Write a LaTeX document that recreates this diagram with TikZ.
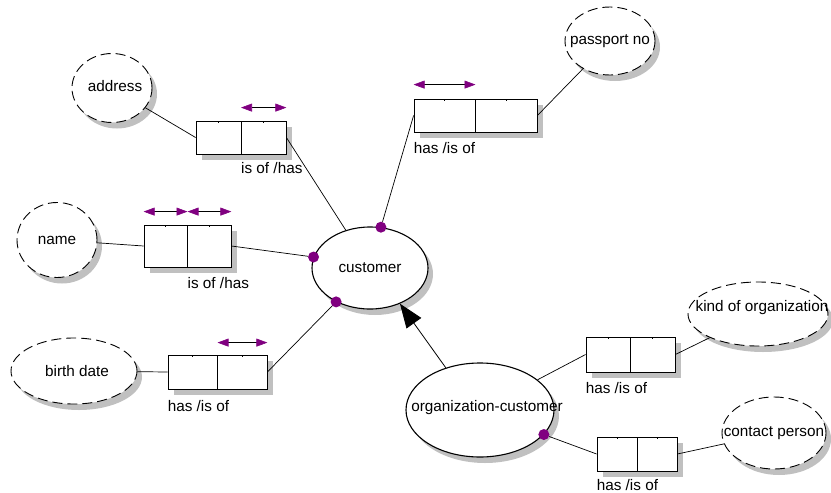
\documentclass[tikz,border=0pt]{standalone}
\usepackage{fontspec}
\setmainfont{Liberation Sans}
\usetikzlibrary{shapes.geometric,shadows,arrows.meta,calc}
\definecolor{assoc}{RGB}{128,0,128}
\definecolor{shadowgray}{RGB}{192,192,192}

\begin{document}
\begin{tikzpicture}[x=1pt,y=-1pt,
  font=\fontsize{15.3}{18}\selectfont,
  castshadow/.style={drop shadow={shadow xshift=5pt,shadow yshift=-6pt,fill=shadowgray,opacity=1}},
  attr/.style={ellipse,draw,dash pattern=on 10pt off 5pt,line width=0.9pt,fill=white,inner sep=0pt,castshadow},
  entity/.style={ellipse,draw,line width=1.1pt,fill=white,inner sep=0pt,castshadow},
  relbox/.style={rectangle,draw,line width=0.8pt,fill=white,inner sep=0pt,
    drop shadow={shadow xshift=6pt,shadow yshift=-6pt,fill=shadowgray,opacity=1},
    path picture={
      \draw[line width=0.8pt] (path picture bounding box.north) -- (path picture bounding box.south);
      \draw[line width=0.6pt] ($(path picture bounding box.north west)!0.25!(path picture bounding box.north east)$) -- ++(0,2);
      \draw[line width=0.6pt] ($(path picture bounding box.north west)!0.75!(path picture bounding box.north east)$) -- ++(0,2);
    }},
  rellabel/.style={anchor=west,inner sep=0pt},
  link/.style={line width=0.7pt},
  joint/.style={circle,fill=assoc,inner sep=0pt,minimum size=11pt},
  dblarr/.style={line width=0.6pt,arrows={Triangle[length=11pt,width=8pt,color=assoc]-Triangle[length=11pt,width=8pt,color=assoc]}},
  isa/.style={line width=0.8pt,arrows={-Triangle[length=24pt,width=18pt]}}
]
\useasboundingbox (0,0) rectangle (831,493);

% entities
\node[entity,minimum width=116pt,minimum height=82pt,label={center:customer}] (cust) at (370,268) {};
\node[entity,minimum width=148pt,minimum height=94pt,label={[xshift=7pt,yshift=2pt]center:organization-customer}] (org) at (480,410) {};

% attributes
\node[attr,minimum width=80pt,minimum height=69pt,label={[xshift=3pt,yshift=2pt]center:address}] (address) at (112,88) {};
\node[attr,minimum width=80pt,minimum height=75pt,label={center:name}] (name) at (57,240) {};
\node[attr,minimum width=126pt,minimum height=66pt,label={[xshift=3pt]center:birth date}] (birth) at (74,371) {};
\node[attr,minimum width=90pt,minimum height=68pt,label={center:passport no}] (passport) at (610,41) {};
\node[attr,minimum width=140pt,minimum height=64pt,label={[xshift=4pt,yshift=6pt]center:kind of organization}] (kind) at (758,314) {};
\node[attr,minimum width=104pt,minimum height=72pt,label={center:contact person}] (contact) at (774,433) {};

% relationship boxes
\node[relbox,minimum width=90pt,minimum height=33pt] (abox) at (241,137.5) {};
\node[relbox,minimum width=87pt,minimum height=42pt] (nbox) at (187.5,246) {};
\node[relbox,minimum width=99pt,minimum height=34pt] (bbox) at (217.5,372) {};
\node[relbox,minimum width=123pt,minimum height=33pt] (pbox) at (475.5,115.5) {};
\node[relbox,minimum width=89pt,minimum height=35pt] (kbox) at (630.5,354.5) {};
\node[relbox,minimum width=80pt,minimum height=34pt] (cbox) at (637,454) {};

% role labels
\node[rellabel] at ([yshift=-14pt]abox.south) {is of /has};
\node[rellabel] at ([yshift=-16pt]nbox.south) {is of /has};
\node[rellabel] at ([yshift=-17pt]bbox.south west) {has /is of};
\node[rellabel] at ([yshift=-16pt]pbox.south west) {has /is of};
\node[rellabel] at ([yshift=-16pt]kbox.south west) {has /is of};
\node[rellabel] at ([yshift=-14pt]cbox.south west) {has /is of};

% direction arrows
\draw[dblarr] ([yshift=13pt]abox.north) -- ([yshift=13pt]abox.north east);
\draw[dblarr] ([yshift=13pt]nbox.north west) -- ([yshift=13pt]nbox.north);
\draw[dblarr] ([yshift=13pt]nbox.north) -- ([yshift=13pt]nbox.north east);
\draw[dblarr] ([yshift=12pt]bbox.north) -- ([yshift=12pt]bbox.north east);
\draw[dblarr] ([yshift=14pt]pbox.north west) -- ([yshift=14pt]pbox.north);

% joints
\node[joint] (j1) at (cust.75) {};
\node[joint] (j2) at (cust.169) {};
\node[joint] (j3) at (cust.225) {};
\node[joint] (j4) at (org.-21) {};

% connectors
\draw[link] (address) -- (abox.west);
\draw[link] (abox.east) -- (cust);
\draw[link] (name) -- (nbox.west);
\draw[link] (nbox.east) -- (j2);
\draw[link] (birth) -- (bbox.west);
\draw[link] (bbox.east) -- (j3);
\draw[link] (passport) -- (pbox.east);
\draw[link] (pbox.west) -- (j1);
\draw[link] (org) -- (kbox.west);
\draw[link] (kbox.east) -- (kind);
\draw[link] (j4) -- (cbox.west);
\draw[link] (cbox.east) -- (contact);

% generalisation
\draw[isa] (org.129) -- (cust.-50);
\end{tikzpicture}
\end{document}
